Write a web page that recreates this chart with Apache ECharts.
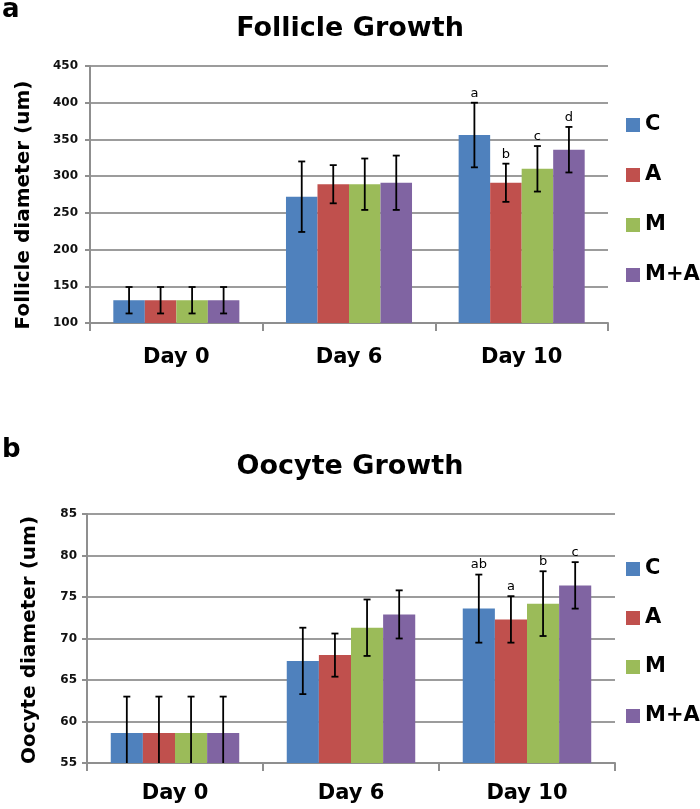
<!DOCTYPE html>
<html><head><meta charset="utf-8">
<script src="https://cdn.jsdelivr.net/npm/echarts@6/dist/echarts.min.js"></script>
<style>html,body{margin:0;padding:0;background:#fff}#c{width:700px;height:809px}</style>
</head><body><div id="c"></div>
<script>
// ---------- data ----------
const categories = ['Day 0', 'Day 6', 'Day 10'];
const groups = ['C', 'A', 'M', 'M+A'];
const follicleTicks = [100, 450, 50]; // min, max, interval
const oocyteTicks = [55, 85, 5];

const follicleC  = [131, 272, 356];
const follicleA  = [131, 289, 291];
const follicleM  = [131, 289, 310];
const follicleMA = [131, 291, 336];
const follicleErrC  = [18, 48, 44];
const follicleErrA  = [18, 26, 26];
const follicleErrM  = [18, 35, 31];
const follicleErrMA = [18, 37, 31];
const follicleSigC  = ['', '', 'a'];
const follicleSigA  = ['', '', 'b'];
const follicleSigM  = ['', '', 'c'];
const follicleSigMA = ['', '', 'd'];

const oocyteC  = [58.6, 67.3, 73.6];
const oocyteA  = [58.6, 68.0, 72.3];
const oocyteM  = [58.6, 71.3, 74.2];
const oocyteMA = [58.6, 72.9, 76.4];
const oocyteErrC  = [4.4, 4.0, 4.1];
const oocyteErrA  = [4.4, 2.6, 2.8];
const oocyteErrM  = [4.4, 3.4, 3.9];
const oocyteErrMA = [4.4, 2.9, 2.8];
const oocyteSigC  = ['', '', 'ab'];
const oocyteSigA  = ['', '', 'a'];
const oocyteSigM  = ['', '', 'b'];
const oocyteSigMA = ['', '', 'c'];

// ---------- chart ----------
const FONT = 'DejaVu Sans';
const colors = ['#4f81bd', '#c0504d', '#9bbb59', '#8064a2'];
const GAP = 0.27;

const follicleMeans = [follicleC, follicleA, follicleM, follicleMA];
const follicleErrs = [follicleErrC, follicleErrA, follicleErrM, follicleErrMA];
const follicleSigs = [follicleSigC, follicleSigA, follicleSigM, follicleSigMA];
const oocyteMeans = [oocyteC, oocyteA, oocyteM, oocyteMA];
const oocyteErrs = [oocyteErrC, oocyteErrA, oocyteErrM, oocyteErrMA];
const oocyteSigs = [oocyteSigC, oocyteSigA, oocyteSigM, oocyteSigMA];

function errData(means, errs) {
  const out = [];
  means.forEach((arr, si) => arr.forEach((v, ci) => out.push([ci, si, v, errs[si][ci]])));
  return out;
}
function makeRender(sigs) {
  return function (params, api) {
    const ci = api.value(0), si = api.value(1), mean = api.value(2), err = api.value(3);
    const catW = api.size([1, 0])[0];
    const barW = catW * (1 - GAP) / 4;
    const x = api.coord([ci, mean])[0] + (si - 1.5) * barW;
    const yT = api.coord([ci, mean + err])[1];
    const yB = api.coord([ci, mean - err])[1];
    const cap = 3.5;
    const st = { stroke: '#000', lineWidth: 1.8 };
    const children = [
      { type: 'line', shape: { x1: x, y1: yT, x2: x, y2: yB }, style: st },
      { type: 'line', shape: { x1: x - cap, y1: yT, x2: x + cap, y2: yT }, style: st },
      { type: 'line', shape: { x1: x - cap, y1: yB, x2: x + cap, y2: yB }, style: st }
    ];
    const s = sigs[si][ci];
    if (s) children.push({ type: 'text', style: { text: s, x: x, y: yT - 3, align: 'center', verticalAlign: 'bottom', font: '13px "' + FONT + '"', fill: '#000' } });
    return { type: 'group', children: children };
  };
}

const axisGray = '#8f8f8f';
function xAxisCfg(gi, margin) {
  return {
    type: 'category', gridIndex: gi, data: categories,
    axisLine: { show: true, lineStyle: { color: axisGray, width: 2 } },
    axisTick: { show: true, length: 8, interval: 0, lineStyle: { color: axisGray, width: 2 } },
    axisLabel: { margin: margin, fontSize: 21, fontWeight: 'bold', fontFamily: FONT, color: '#000' },
    splitLine: { show: false }
  };
}
function yAxisCfg(gi, ticks, margin) {
  return {
    type: 'value', gridIndex: gi, min: ticks[0], max: ticks[1], interval: ticks[2],
    axisLine: { show: true, lineStyle: { color: axisGray, width: 2 } },
    axisTick: { show: true, length: 5, lineStyle: { color: axisGray, width: 2 } },
    axisLabel: { margin: margin, fontSize: 12, fontWeight: 'bold', fontFamily: FONT, color: '#111' },
    splitLine: { show: true, lineStyle: { color: '#9c9c9c', width: 2 } }
  };
}
function legendCfg(top, gap) {
  return {
    data: groups, orient: 'vertical', left: 626, top: top, padding: 0,
    itemWidth: 14, itemHeight: 14, itemGap: gap, icon: 'rect', selectedMode: false,
    textStyle: { fontSize: 21, fontWeight: 'bold', fontFamily: FONT, color: '#000', lineHeight: 22 }
  };
}

const series = [];
[follicleMeans, oocyteMeans].forEach((means, gi) => {
  means.forEach((arr, si) => series.push({
    type: 'bar', name: groups[si], xAxisIndex: gi, yAxisIndex: gi, data: arr,
    barGap: '0%', barCategoryGap: (GAP * 100) + '%',
    itemStyle: { color: colors[si] }, animation: false
  }));
});
series.push({ type: 'custom', xAxisIndex: 0, yAxisIndex: 0, clip: true, animation: false,
  data: errData(follicleMeans, follicleErrs), encode: { x: 0, y: 2 }, renderItem: makeRender(follicleSigs), z: 5 });
series.push({ type: 'custom', xAxisIndex: 1, yAxisIndex: 1, clip: true, animation: false,
  data: errData(oocyteMeans, oocyteErrs), encode: { x: 0, y: 2 }, renderItem: makeRender(oocyteSigs), z: 5 });

const boldFont = (px) => 'bold ' + px + 'px "' + FONT + '"';
const option = {
  backgroundColor: '#fff',
  animation: false,
  grid: [
    { left: 90, top: 66, width: 518, height: 257, outerBoundsMode: 'none' },
    { left: 87, top: 514, width: 528, height: 249, outerBoundsMode: 'none' }
  ],
  xAxis: [xAxisCfg(0, 24), xAxisCfg(1, 20)],
  yAxis: [yAxisCfg(0, follicleTicks, 12), yAxisCfg(1, oocyteTicks, 10)],
  legend: [legendCfg(114, 28), legendCfg(558, 27)],
  graphic: [
    { type: 'text', x: 2, y: 10, style: { text: 'a', font: boldFont(26), fill: '#000', verticalAlign: 'middle' } },
    { type: 'text', x: 350, y: 29, style: { text: 'Follicle Growth', font: boldFont(27), fill: '#000', align: 'center', verticalAlign: 'middle' } },
    { type: 'text', x: 2, y: 450, style: { text: 'b', font: boldFont(26), fill: '#000', verticalAlign: 'middle' } },
    { type: 'text', x: 350, y: 467, style: { text: 'Oocyte Growth', font: boldFont(27), fill: '#000', align: 'center', verticalAlign: 'middle' } },
    { type: 'text', x: 24, y: 205, rotation: Math.PI / 2, style: { text: 'Follicle diameter (um)', font: boldFont(20), fill: '#000', align: 'center', verticalAlign: 'middle' } },
    { type: 'text', x: 30, y: 640, rotation: Math.PI / 2, style: { text: 'Oocyte diameter (um)', font: boldFont(20), fill: '#000', align: 'center', verticalAlign: 'middle' } }
  ],
  series: series
};
const chart = echarts.init(document.getElementById('c'));
chart.setOption(option);
</script></body></html>
